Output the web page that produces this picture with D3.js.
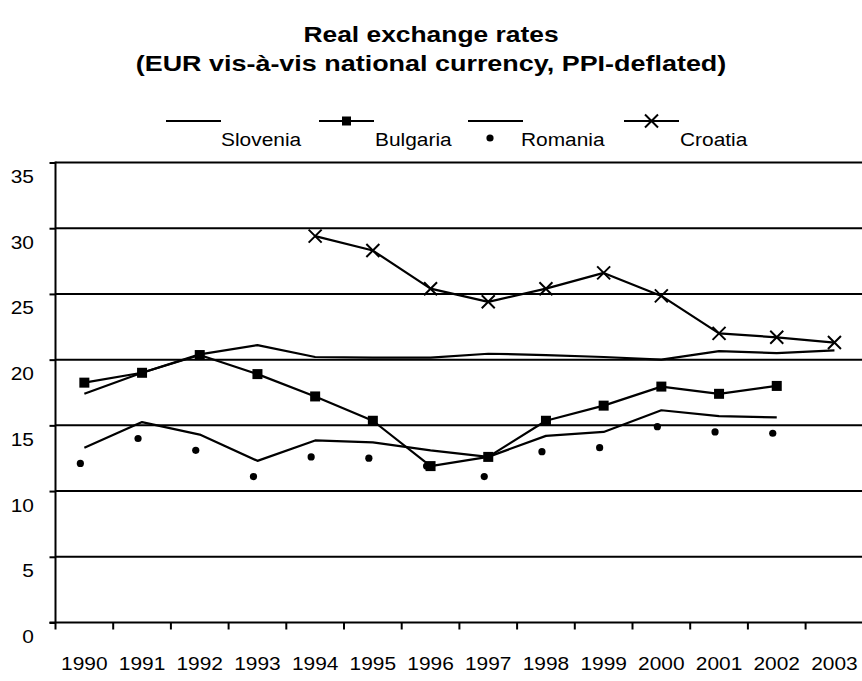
<!DOCTYPE html>
<html>
<head>
<meta charset="utf-8">
<script src="https://cdn.jsdelivr.net/npm/d3@7"></script>
<style>
  body { margin: 0; background: #fff; }
  svg { display: block; font-family: Arial, "Liberation Sans", sans-serif; }
</style>
</head>
<body>
<svg id="chart" width="862" height="681"></svg>
<script>
// ---- data ----
const years = ["1990","1991","1992","1993","1994","1995","1996","1997","1998","1999","2000","2001","2002","2003"];
const yTicks = [0, 5, 10, 15, 20, 25, 30, 35];
const slovenia = [17.4, 19.0, 20.4, 21.1, 20.2, 20.15, 20.15, 20.45, 20.35, 20.2, 20.0, 20.65, 20.5, 20.7];
const bulgaria = [18.25, 19.0, 20.35, 18.9, 17.2, 15.35, 11.9, 12.6, 15.35, 16.5, 17.95, 17.4, 18.0, null];
const romaniaLine = [13.3, 15.25, 14.3, 12.3, 13.85, 13.7, 13.1, 12.6, 14.2, 14.5, 16.15, 15.7, 15.6, null];
const romaniaDots = [12.1, 14.0, 13.1, 11.1, 12.6, 12.5, 11.9, 11.1, 13.0, 13.3, 14.9, 14.5, 14.4, null];
const croatia = [null, null, null, null, 29.4, 28.3, 25.4, 24.4, 25.4, 26.6, 24.85, 22.0, 21.7, 21.3];
const legendLabels = ["Slovenia", "Bulgaria", "Romania", "Croatia"];
const titleLines = ["Real exchange rates", "(EUR vis-\u00e0-vis national currency, PPI-deflated)"];

// ---- layout ----
const svg = d3.select("#chart");
const plotLeft = 55.5, band = 57.7;
const x = d3.scaleBand().domain(years).range([plotLeft, plotLeft + band * years.length]);
const y = d3.scaleLinear().domain([0, 35]).range([622.5, 162.5]);
const gridRight = 862;
const SX = 1.1;                 // horizontal stretch of body text (source image is stretched)
const TSX = [1.2, 1.225];       // horizontal stretch of the title lines

function putText(g, tx, ty, str, size, anchor, sx, weight) {
  return g.append("text")
    .attr("transform", `translate(${tx},${ty}) scale(${sx},1)`)
    .attr("text-anchor", anchor)
    .attr("font-size", size)
    .attr("font-weight", weight || "normal")
    .attr("fill", "#000")
    .text(str);
}

// title
titleLines.forEach((t, i) => putText(svg, 431, 42 + i * 29, t, 22, "middle", TSX[i], "bold"));

// gridlines
svg.append("g").selectAll("line").data(yTicks.filter(v => v > 0)).join("line")
  .attr("x1", plotLeft).attr("x2", gridRight)
  .attr("y1", d => y(d)).attr("y2", d => y(d))
  .attr("stroke", "#000").attr("stroke-width", 2);

// y axis
const yAxis = svg.append("g").attr("transform", `translate(${plotLeft},0)`)
  .call(d3.axisLeft(y).tickValues(yTicks).tickSize(6).tickSizeOuter(0).tickFormat(""));
yAxis.select(".domain").attr("stroke-width", 2).attr("d", `M0,${y(0)}V${y(35) - 1}`);
yAxis.selectAll(".tick line").attr("stroke-width", 2);
const yLab = svg.append("g");
yTicks.forEach(v => putText(yLab, 34, y(v) + 20.5, String(v), 19, "end", SX));

// x axis
const xg = svg.append("g").attr("transform", `translate(0,${y(0)})`);
xg.append("line").attr("x1", plotLeft - 6).attr("x2", gridRight)
  .attr("stroke", "#000").attr("stroke-width", 2);
xg.selectAll("line.tk").data(years).join("line").attr("class", "tk")
  .attr("x1", d => x(d)).attr("x2", d => x(d))
  .attr("y1", 0).attr("y2", 7).attr("stroke", "#000").attr("stroke-width", 2);
years.forEach(d => putText(xg, x(d) + x.bandwidth() / 2, 47.5, d, 19, "middle", SX));

const cx = d => x(d) + x.bandwidth() / 2;
const toPts = arr => years.map((yr, i) => ({ yr, v: arr[i] })).filter(p => p.v != null);
const line = d3.line().x(p => cx(p.yr)).y(p => y(p.v));

function drawLine(arr) {
  svg.append("path").datum(toPts(arr)).attr("d", line)
    .attr("fill", "none").attr("stroke", "#000").attr("stroke-width", 2.2)
    .attr("stroke-linejoin", "round");
}
drawLine(slovenia);
drawLine(romaniaLine);
drawLine(bulgaria);
drawLine(croatia);

// Romania dots (slightly shifted as in the source)
svg.append("g").attr("transform", "translate(-4,0)")
  .selectAll("circle").data(toPts(romaniaDots)).join("circle")
  .attr("cx", p => cx(p.yr)).attr("cy", p => y(p.v)).attr("r", 3.6).attr("fill", "#000");

// Bulgaria squares
const sq = 10;
svg.append("g").selectAll("rect").data(toPts(bulgaria)).join("rect")
  .attr("x", p => cx(p.yr) - sq / 2).attr("y", p => y(p.v) - sq / 2)
  .attr("width", sq).attr("height", sq).attr("fill", "#000");

// Croatia X markers
const xm = 6.5;
function xMark(g, px, py) {
  g.append("path").attr("d", `M${px - xm},${py - xm}L${px + xm},${py + xm}M${px - xm},${py + xm}L${px + xm},${py - xm}`)
    .attr("stroke", "#000").attr("stroke-width", 2).attr("fill", "none");
}
const cg = svg.append("g");
toPts(croatia).forEach(p => xMark(cg, cx(p.yr), y(p.v)));

// legend
const legY = 121, legTextY = 146;
const lg = svg.append("g");
const legSym = [
  { x0: 166, label: legendLabels[0], tx: 221, marker: null },
  { x0: 319, label: legendLabels[1], tx: 375, marker: "square" },
  { x0: 468, label: null, tx: null, marker: null },
  { x0: 624, label: legendLabels[3], tx: 680, marker: "x" }
];
legSym.forEach(s => {
  lg.append("line").attr("x1", s.x0).attr("x2", s.x0 + 55).attr("y1", legY).attr("y2", legY)
    .attr("stroke", "#000").attr("stroke-width", 2);
  const mx = s.x0 + 27.5;
  if (s.marker === "square") lg.append("rect").attr("x", mx - 4.5).attr("y", legY - 4.5).attr("width", 9).attr("height", 9).attr("fill", "#000");
  if (s.marker === "x") xMark(lg, mx, legY);
  if (s.label) putText(lg, s.tx, legTextY, s.label, 19, "start", SX);
});
lg.append("circle").attr("cx", 490).attr("cy", 138).attr("r", 3.6).attr("fill", "#000");
putText(lg, 521, legTextY, legendLabels[2], 19, "start", SX);
</script>
</body>
</html>
